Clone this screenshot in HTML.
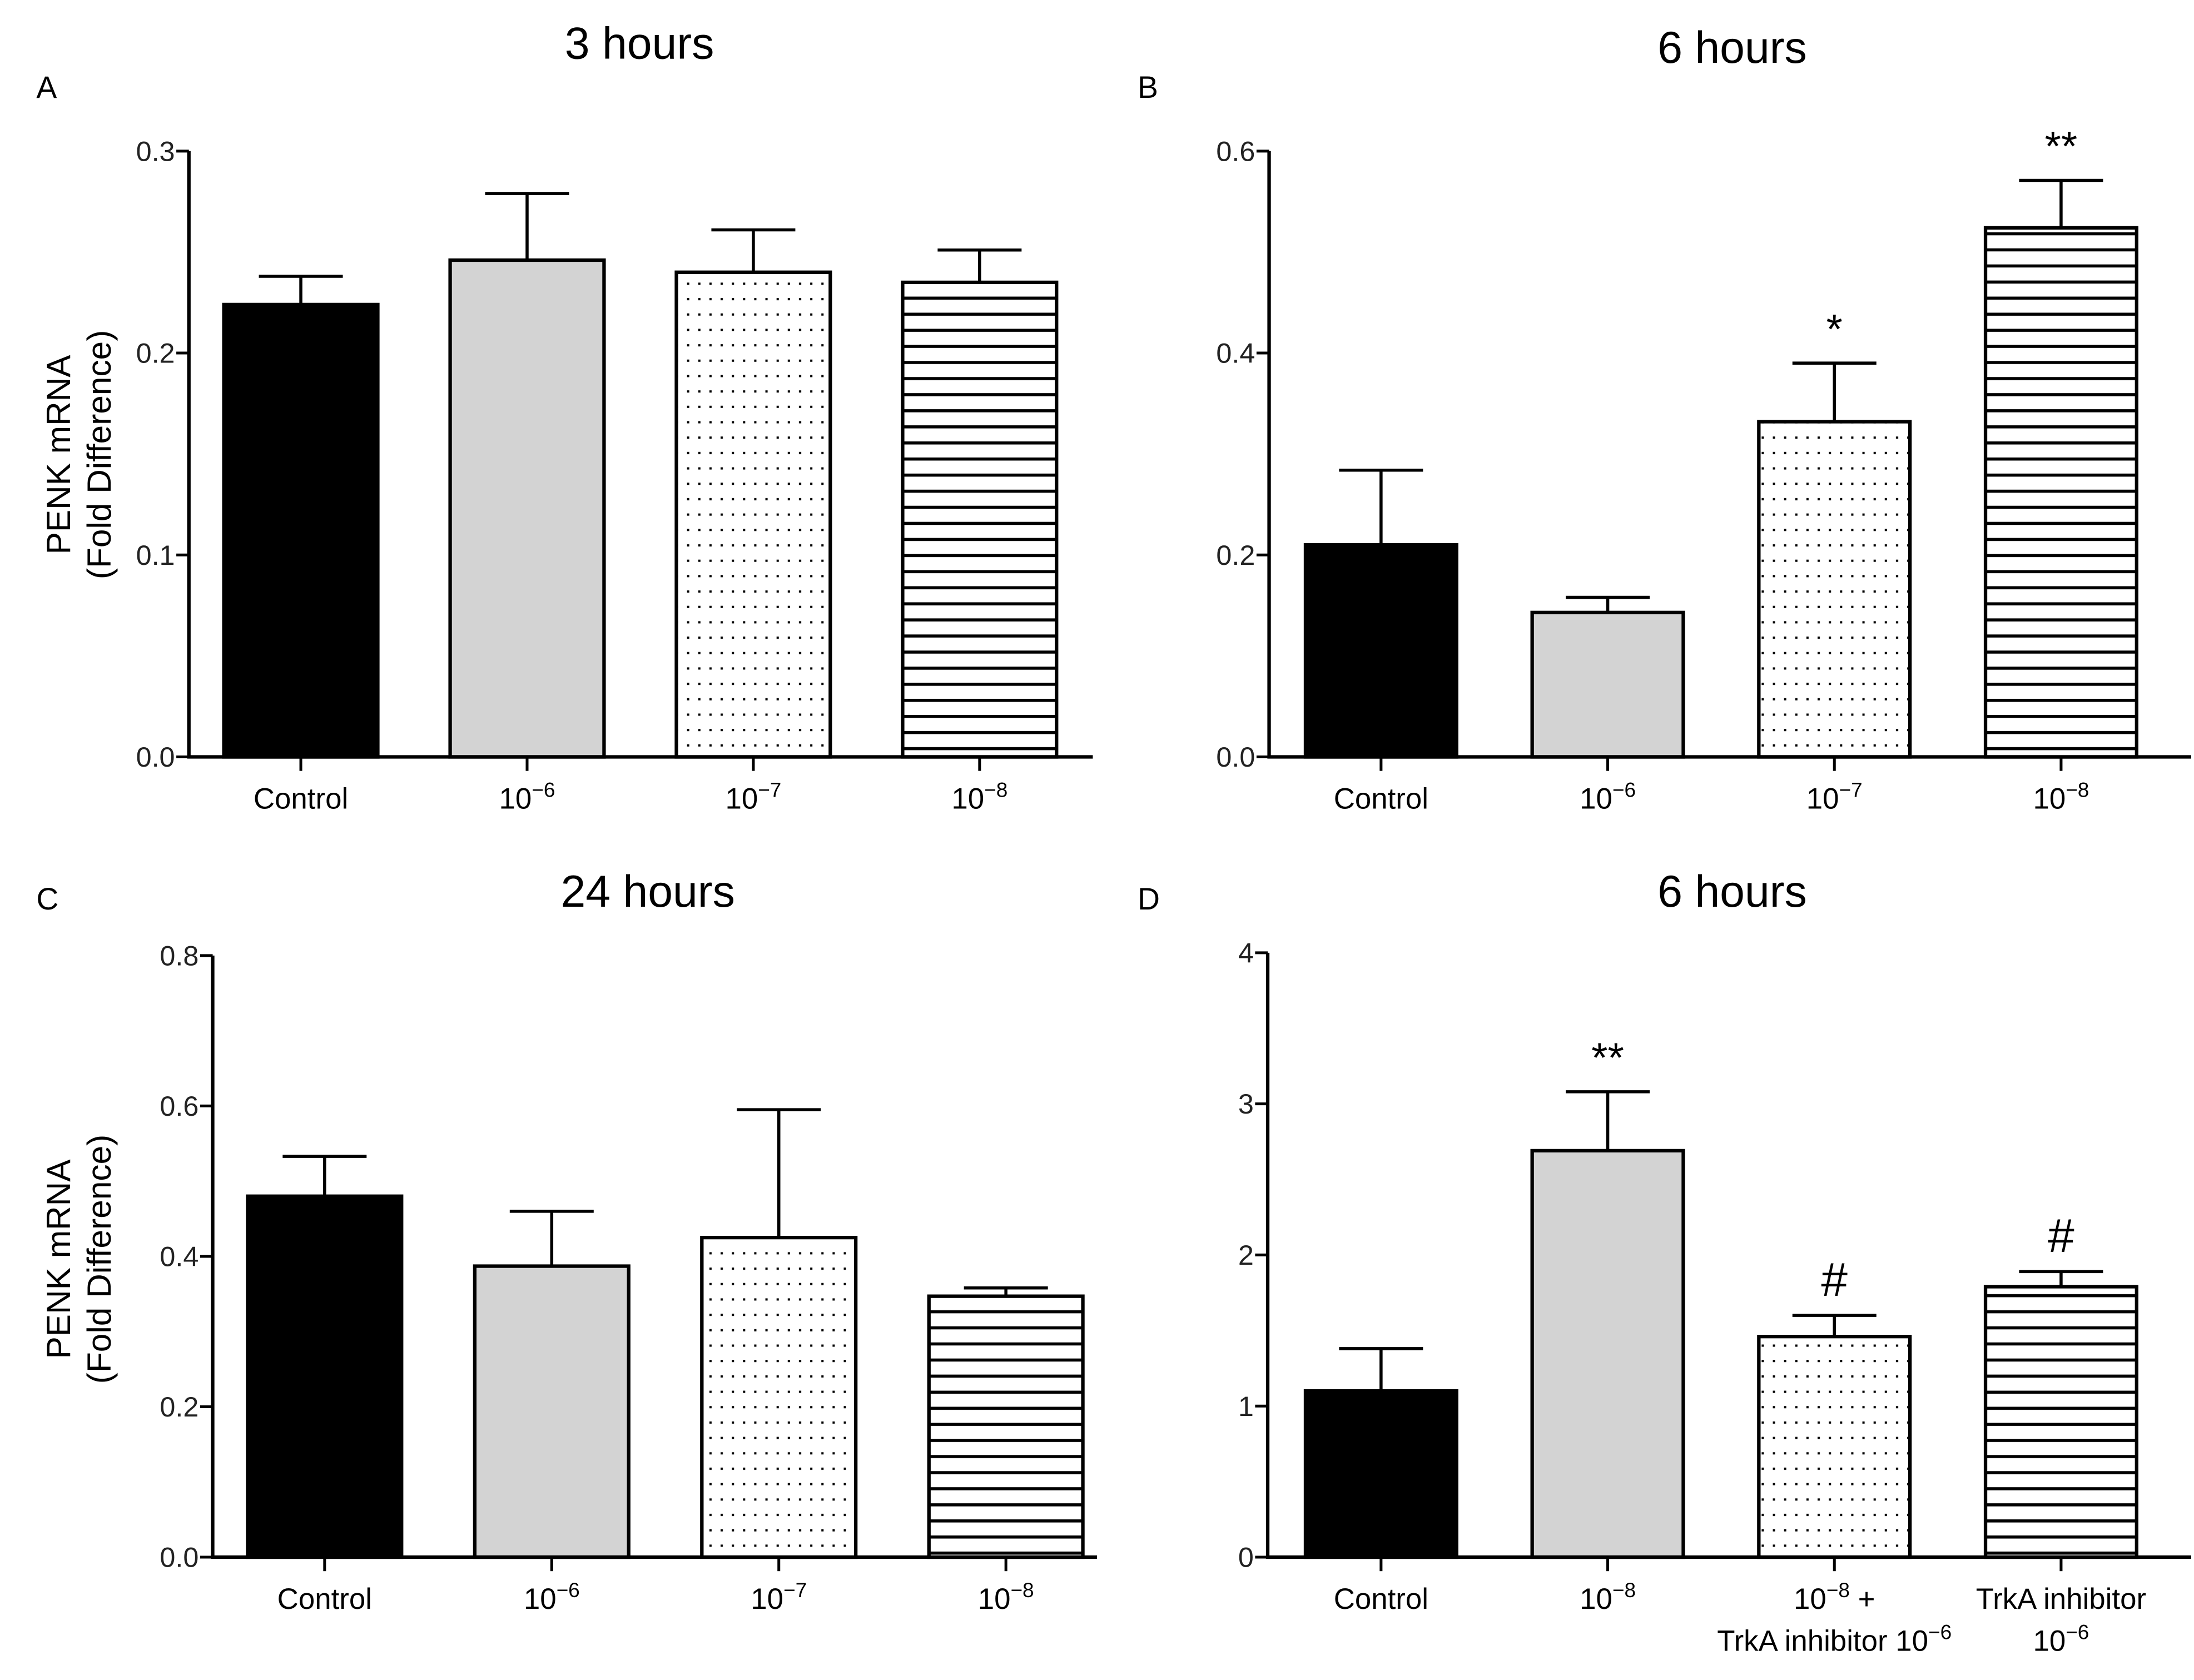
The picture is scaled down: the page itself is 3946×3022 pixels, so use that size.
<!DOCTYPE html>
<html><head><meta charset="utf-8"><style>
html,body{margin:0;padding:0;background:#fff;}
svg{display:block;font-family:"Liberation Sans",Arial,sans-serif;}
</style></head><body>
<svg id="fig" width="3946" height="3022" viewBox="0 0 1568 1200.8" preserveAspectRatio="none" xmlns="http://www.w3.org/2000/svg">
<defs>
<pattern id="dots" patternUnits="userSpaceOnUse" width="8" height="11"><rect x="3" y="4" width="1.6" height="1.6" fill="#000"/></pattern>
<pattern id="hlines" patternUnits="userSpaceOnUse" width="10" height="11.5"><rect x="0" y="5" width="10" height="2.2" fill="#000"/></pattern>
</defs>
</svg>
<script>
// Panel A (3 hours)
const catsA = ["Control","10^-6","10^-7","10^-8"];
const valsA = [0.224,0.246,0.240,0.235];
const errA = [0.238,0.279,0.261,0.251];
const ticksA = [0.0,0.1,0.2,0.3];
// Panel B (6 hours)
const catsB = ["Control","10^-6","10^-7","10^-8"];
const valsB = [0.210,0.143,0.332,0.524];
const errB = [0.284,0.158,0.390,0.571];
const marksB = ["","","*","**"];
const ticksB = [0.0,0.2,0.4,0.6];
// Panel C (24 hours)
const catsC = ["Control","10^-6","10^-7","10^-8"];
const valsC = [0.480,0.387,0.425,0.347];
const errC = [0.533,0.460,0.595,0.358];
const ticksC = [0.0,0.2,0.4,0.6,0.8];
// Panel D (6 hours)
const catsD = ["Control","10^-8","10^-8 +|TrkA inhibitor 10^-6","TrkA inhibitor|10^-6"];
const valsD = [1.10,2.69,1.46,1.79];
const errD = [1.38,3.08,1.60,1.89];
const marksD = ["","**","#","#"];
const ticksD = [0,1,2,3,4];

const NS="http://www.w3.org/2000/svg";
const svg=document.getElementById('fig');
function el(tag,attrs,parent){const e=document.createElementNS(NS,tag);for(const k in attrs)e.setAttribute(k,attrs[k]);(parent||svg).appendChild(e);return e;}
function richText(g,x,y,str,size){
  const t=el('text',{x:x,y:y,'font-size':size,'text-anchor':'middle',fill:'#000'},g);
  const parts=str.split('^');
  const s1=document.createElementNS(NS,'tspan');s1.textContent=parts[0];t.appendChild(s1);
  if(parts.length>1){
    const m=parts[1].match(/^(-?\d+)(.*)$/);
    const s2=document.createElementNS(NS,'tspan');s2.setAttribute('dy',-size*0.4);s2.setAttribute('font-size',size*0.7);s2.textContent=m[1].replace('-','\u2212');t.appendChild(s2);
    if(m[2]){const s3=document.createElementNS(NS,'tspan');s3.setAttribute('dy',size*0.4);s3.textContent=m[2];t.appendChild(s3);}
  }
  return t;
}
const fills=['#000','#d3d3d3','url(#dots)','url(#hlines)'];
function panel(cfg){
  const g=el('g',{});
  
  
  const ymax=cfg.ticks[cfg.ticks.length-1];
  const Y=v=>cfg.y0-(v/ymax)*(cfg.y0-cfg.ytop);
  const ti=el('text',{x:cfg.tx,y:cfg.ty,'font-size':32,'text-anchor':'middle'},g);ti.textContent=cfg.title;
  
  
  const lt=el('text',{x:cfg.lx,y:cfg.ly,'font-size':22},g);lt.textContent=cfg.letter;
  
  
  cfg.vals.forEach((v,i)=>{
    const x0=cfg.ax+cfg.first+i*cfg.step, w=cfg.bw, cx=x0+w/2;
    const e=Y(cfg.err[i]), top=Y(v);
    const eb=el('path',{d:`M${cx} ${top}V${e}M${cx-30} ${e}H${cx+30}`,stroke:'#000','stroke-width':2.2,fill:'none'},g);
    
    
    const r=el('rect',{x:x0,y:top,width:w,height:cfg.y0-top,fill:fills[i],stroke:'#000','stroke-width':2.5},g);
    
    
    el('line',{x1:cx,x2:cx,y1:cfg.y0,y2:cfg.y0+10,stroke:'#000','stroke-width':2},g);
    const lines=cfg.cats[i].split('|');
    lines.forEach((ln,j)=>{
      const t=richText(g,cx,cfg.y0+37+j*30,ln,21);
      
      
    });
    if(cfg.marks&&cfg.marks[i]){
      const m=el('text',{x:cx,y:e-14,'font-size':cfg.marks[i]=='#'?34:30,'text-anchor':'middle'},g);m.textContent=cfg.marks[i];
      
      
    }
  });
  el('path',{d:`M${cfg.ax} ${cfg.ytop}V${cfg.y0}H${cfg.xend}`,stroke:'#000','stroke-width':2.5,fill:'none'},g);
  cfg.ticks.forEach(t=>{
    const y=Y(t);
    el('line',{x1:cfg.ax-9,x2:cfg.ax,y1:y,y2:y,stroke:'#000','stroke-width':2},g);
    const tl=el('text',{x:cfg.ax-10,y:y+7,'font-size':20,'text-anchor':'end',fill:'#222'},g);
    tl.textContent=cfg.dec?t.toFixed(1):String(t);
    
    
  });
  if(cfg.ylab){
    const yt=el('text',{transform:`translate(50 ${cfg.ylab}) rotate(-90)`,'font-size':24,'text-anchor':'middle'},g);
    
    
    const a=document.createElementNS(NS,'tspan');a.setAttribute('x',0);a.setAttribute('y',0);a.textContent='PENK mRNA';yt.appendChild(a);
    const b=document.createElementNS(NS,'tspan');b.setAttribute('x',0);b.setAttribute('y',29);b.textContent='(Fold Difference)';yt.appendChild(b);
  }
}
panel({name:'panel-a',title:'3 hours',tx:457,ty:42,letter:'A',lx:26,ly:70,ax:135,ytop:108,y0:541,xend:781,first:25,step:161.7,bw:110,cats:catsA,vals:valsA,err:errA,ticks:ticksA,dec:true,ylab:325});
panel({name:'panel-b',title:'6 hours',tx:1238,ty:45,letter:'B',lx:813,ly:70,ax:907,ytop:108,y0:541,xend:1566,first:26,step:162,bw:108,cats:catsB,vals:valsB,err:errB,marks:marksB,ticks:ticksB,dec:true});
panel({name:'panel-c',title:'24 hours',tx:463,ty:648,letter:'C',lx:26,ly:650,ax:152,ytop:683,y0:1113,xend:784,first:25,step:162.3,bw:110,cats:catsC,vals:valsC,err:errC,ticks:ticksC,dec:true,ylab:900});
panel({name:'panel-d',title:'6 hours',tx:1238,ty:648,letter:'D',lx:813,ly:650,ax:906,ytop:681,y0:1113,xend:1566,first:27,step:162,bw:108,cats:catsD,vals:valsD,err:errD,marks:marksD,ticks:ticksD,dec:false});
</script>
</body></html>
